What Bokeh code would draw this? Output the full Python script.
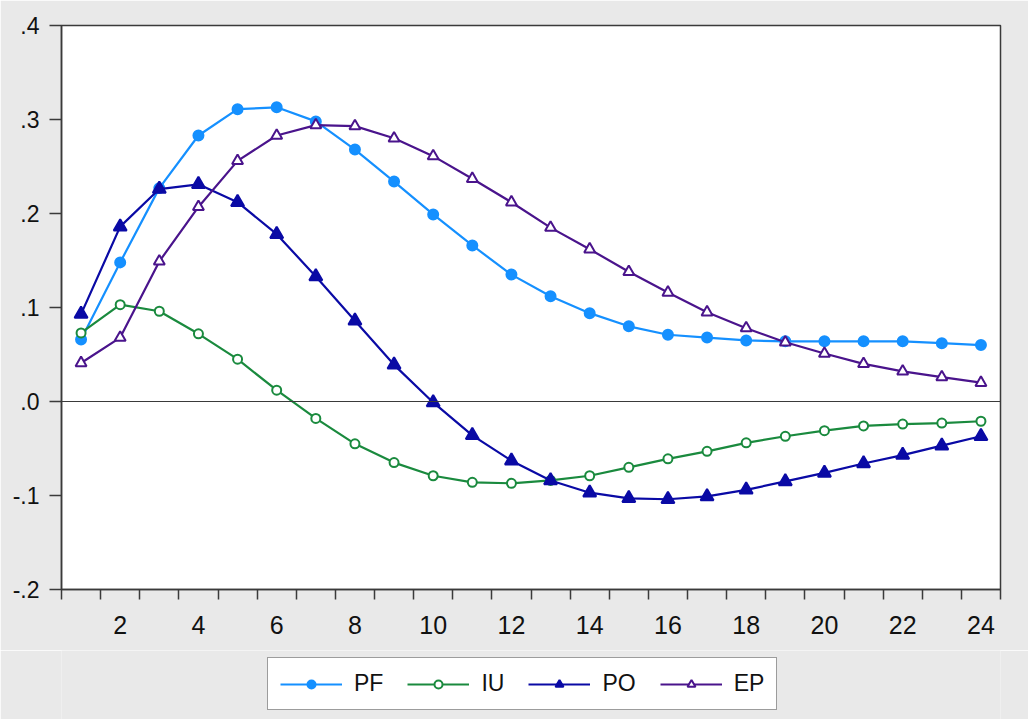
from bokeh.plotting import figure
from bokeh.models import (FixedTicker, Legend, LegendItem, Span, Range1d)
from bokeh.layouts import column
from bokeh.embed import file_html
from bokeh.resources import INLINE

periods = list(range(1, 25))
pf = [0.066, 0.148, 0.227, 0.283, 0.311, 0.313, 0.298, 0.268, 0.234, 0.199, 0.166, 0.135,
      0.112, 0.094, 0.080, 0.071, 0.068, 0.065, 0.064, 0.064, 0.064, 0.064, 0.062, 0.060]
iu = [0.073, 0.103, 0.096, 0.072, 0.045, 0.012, -0.018, -0.045, -0.065, -0.079, -0.086, -0.087,
      -0.084, -0.079, -0.070, -0.061, -0.053, -0.044, -0.037, -0.031, -0.026, -0.024, -0.023, -0.021]
po = [0.093, 0.186, 0.226, 0.231, 0.212, 0.178, 0.133, 0.086, 0.039, -0.001, -0.036, -0.063,
      -0.084, -0.097, -0.103, -0.104, -0.101, -0.094, -0.085, -0.076, -0.066, -0.057, -0.047, -0.037]
ep = [0.041, 0.068, 0.149, 0.207, 0.256, 0.283, 0.294, 0.293, 0.280, 0.261, 0.237, 0.212,
      0.185, 0.162, 0.138, 0.116, 0.095, 0.078, 0.063, 0.051, 0.040, 0.032, 0.026, 0.020]

x_tick_labels = [2, 4, 6, 8, 10, 12, 14, 16, 18, 20, 22, 24]
y_ticks = [-0.2, -0.1, 0.0, 0.1, 0.2, 0.3, 0.4]
y_tick_labels = ["-.2", "-.1", ".0", ".1", ".2", ".3", ".4"]

FONT = "Liberation Sans"
BG = "#e9e9e9"
AX = "#3a3a3a"

p = figure(width=1028, height=650, frame_width=939, frame_height=564,
           min_border_left=61, min_border_top=25, min_border_right=28,
           min_border_bottom=61,
           x_range=Range1d(0.5, 24.5), y_range=Range1d(-0.2, 0.4),
           output_backend="svg", toolbar_location=None,
           background_fill_color="white", border_fill_color=BG)

p.grid.visible = False
p.outline_line_color = AX
p.outline_line_width = 1.5

# x axis
p.xaxis.ticker = FixedTicker(ticks=x_tick_labels, minor_ticks=[i + 0.5 for i in range(0, 25)])
p.xaxis.major_tick_out = 0
p.xaxis.major_tick_in = 0
p.xaxis.minor_tick_out = 10
p.xaxis.minor_tick_in = 0
p.xaxis.minor_tick_line_color = AX
p.xaxis.minor_tick_line_width = 1.5
p.xaxis.axis_line_color = AX
p.xaxis.axis_line_width = 1.5
p.xaxis.major_label_text_font = FONT
p.xaxis.major_label_text_font_size = "25px"
p.xaxis.major_label_text_color = "#111111"
p.xaxis.major_label_standoff = 16

# y axis
p.yaxis.ticker = FixedTicker(ticks=y_ticks, minor_ticks=[])
p.yaxis.major_label_overrides = {t: l for t, l in zip(y_ticks, y_tick_labels)}
p.yaxis.major_tick_out = 12
p.yaxis.major_tick_in = 0
p.yaxis.major_tick_line_color = AX
p.yaxis.major_tick_line_width = 1.5
p.yaxis.axis_line_color = AX
p.yaxis.axis_line_width = 1.5
p.yaxis.major_label_text_font = FONT
p.yaxis.major_label_text_font_size = "23px"
p.yaxis.major_label_text_color = "#111111"
p.yaxis.major_label_standoff = 10

p.add_layout(Span(location=0, dimension="width", line_color=AX, line_width=1.2))

series = [
    ("PF", pf, "#1590ff", "circle", True, 10),
    ("IU", iu, "#1a8a3e", "circle", False, 9),
    ("PO", po, "#0a0aa5", "triangle", True, 13),
    ("EP", ep, "#4a148c", "triangle", False, 11),
]

# legend panel below the chart
leg = figure(width=1028, height=69, min_border=0,
             x_axis_location=None, y_axis_location=None,
             x_range=Range1d(0, 1), y_range=Range1d(0, 1),
             output_backend="svg", toolbar_location=None,
             background_fill_color=BG, border_fill_color=BG)
leg.grid.visible = False
leg.outline_line_color = None

items = []
for name, vals, col, mk, filled, sz in series:
    fill = col if filled else "white"
    p.line(periods, vals, line_color=col, line_width=2.2)
    p.scatter(periods, vals, marker=mk, size=sz, line_color=col, line_width=2, fill_color=fill)
    # off-screen stand-ins so the legend panel can draw matching swatches
    ln = leg.line([-5, -4], [-5, -5], line_color=col, line_width=2.2)
    sc = leg.scatter([-5], [-5], marker=mk, size=sz - 1, line_color=col, line_width=2, fill_color=fill)
    items.append(LegendItem(label=name, renderers=[ln, sc]))

legend = Legend(items=items, orientation="horizontal", location=(206, 9),
                label_text_font=FONT, label_text_font_size="23px",
                label_text_color="#111111", label_height=20,
                glyph_width=62, glyph_height=20, label_standoff=12, spacing=24,
                padding=12, margin=0,
                border_line_color=AX, border_line_width=1.5,
                background_fill_color="white", background_fill_alpha=1.0)
leg.add_layout(legend, "center")

layout = column(p, leg, spacing=0)
open("out.html", "w").write(file_html(layout, INLINE))
